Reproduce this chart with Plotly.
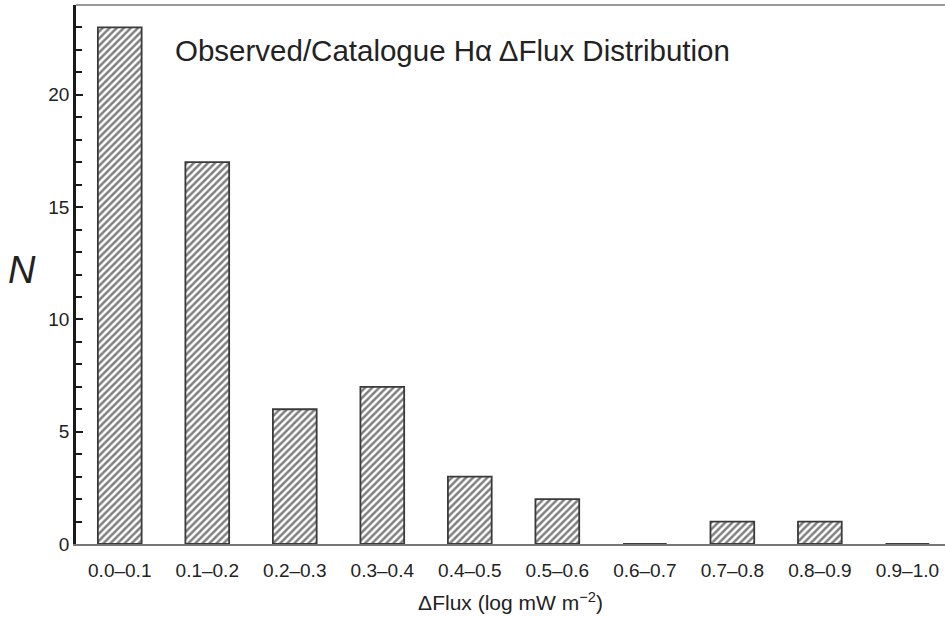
import plotly.graph_objects as go

categories = ["0.0–0.1", "0.1–0.2", "0.2–0.3", "0.3–0.4", "0.4–0.5",
              "0.5–0.6", "0.6–0.7", "0.7–0.8", "0.8–0.9", "0.9–1.0"]
counts = [23, 17, 6, 7, 3, 2, 0, 1, 1, 0]
y_ticks = [0, 5, 10, 15, 20]

FONT = "Liberation Sans, Arial, Helvetica, sans-serif"
TXT = "#222222"

fig = go.Figure()
fig.add_trace(go.Bar(
    x=list(range(len(categories))),
    y=counts,
    width=0.5,
    marker=dict(
        color="white",
        line=dict(color="#3a3a3a", width=1.8),
        pattern=dict(shape="/", fgcolor="#000000", bgcolor="white",
                     size=5, solidity=0.5),
    ),
))

fig.update_layout(
    width=945, height=617,
    margin=dict(l=76, r=0, t=5, b=73),
    plot_bgcolor="white", paper_bgcolor="white",
    showlegend=False,
    font=dict(family=FONT, color=TXT, size=19),
)
fig.update_xaxes(
    range=[-0.5, 9.43],
    tickmode="array",
    tickvals=list(range(len(categories))),
    ticktext=categories,
    showline=True, linecolor="#777777", linewidth=2,
    ticks="outside", ticklen=8, tickcolor="rgba(0,0,0,0)",
    showgrid=False, zeroline=False,
    tickfont=dict(size=19, color=TXT),
    title=dict(text="ΔFlux (log mW m<sup>−2</sup>)", font=dict(size=21, color=TXT),
               standoff=16),
)
fig.update_yaxes(
    range=[0, 24],
    tickmode="array", tickvals=y_ticks,
    showline=True, linecolor="#1a1a1a", linewidth=2.5,
    ticks="inside", ticklen=7, tickwidth=2, tickcolor="#1a1a1a",
    minor=dict(dtick=1, ticks="inside", ticklen=6, tickwidth=1.5,
               tickcolor="#1a1a1a", showgrid=False),
    showgrid=False, zeroline=False,
    tickfont=dict(size=19, color=TXT),
)

# top frame line
fig.add_shape(type="line", xref="paper", yref="paper", x0=0, x1=1, y0=1, y1=1,
              line=dict(color="#999999", width=2))

fig.add_annotation(
    text="Observed/Catalogue Hα ΔFlux Distribution",
    xref="paper", yref="paper", x=0.1116, y=0.9165,
    xanchor="left", yanchor="middle", showarrow=False,
    font=dict(size=29.5, color=TXT, family=FONT),
)
fig.add_annotation(
    text="<i>N</i>",
    xref="paper", yref="paper", x=-0.0621, y=0.508,
    xanchor="center", yanchor="middle", showarrow=False,
    font=dict(size=38, color=TXT, family=FONT),
)

fig.write_html("out.html")
